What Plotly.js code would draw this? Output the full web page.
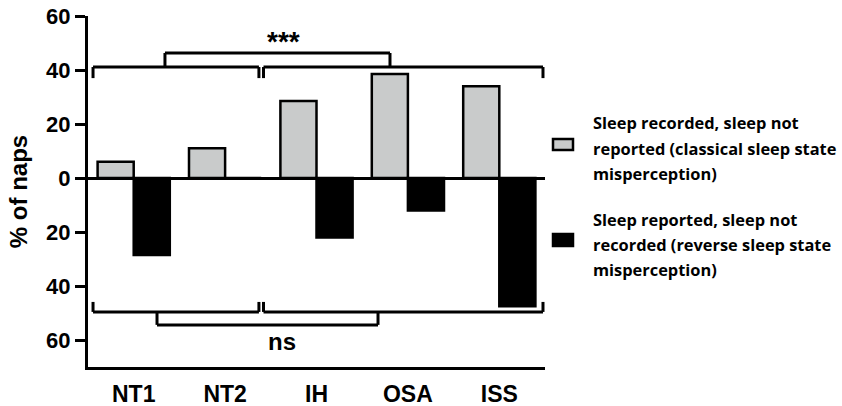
<!DOCTYPE html>
<html>
<head>
<meta charset="utf-8">
<script src="https://cdn.plot.ly/plotly-3.0.1.min.js"></script>
<style>html,body{margin:0;padding:0;background:#fff;}#chart{width:842px;height:406px;}</style>
</head>
<body>
<div id="chart"></div>
<script>
// ---- data ----
const categories = ["NT1", "NT2", "IH", "OSA", "ISS"];
const classicalValues = [6, 11, 28.5, 38.5, 34];      // sleep recorded, not reported (up)
const reverseValues = [-28.5, 0, -22, -12, -47.5];     // sleep reported, not recorded (down)
const yTickVals = [60, 40, 20, 0, -20, -40, -60];
const yTickText = ["60", "40", "20", "0", "20", "40", "60"];
const legendLines1 = ["Sleep recorded, sleep not", "reported (classical sleep state", "misperception)"];
const legendLines2 = ["Sleep reported, sleep not", "recorded (reverse sleep state", "misperception)"];
const sigTop = "***";
const sigBottom = "ns";

const legendFont = {family: "Open Sans, sans-serif", size: 16.4, color: "#000", weight: 700};

const traces = [
  {type: "bar", x: categories, y: classicalValues, name: "classical",
   marker: {color: "#c9cbcb", line: {color: "#000", width: 2.5}}, showlegend: false},
  {type: "bar", x: categories, y: reverseValues, name: "reverse",
   marker: {color: "#000", line: {color: "#000", width: 2.5}}, showlegend: false}
];

const lw = 3;
function seg(x0, y0, x1, y1) {
  return {type: "line", xref: "x", yref: "y", x0: x0, y0: y0, x1: x1, y1: y1,
          line: {color: "#000", width: lw}};
}
// bracket helper: horizontal at yh with end ticks toward yt
function bracket(xa, xb, yh, yt) {
  return [seg(xa, yt, xa, yh), seg(xa, yh, xb, yh), seg(xb, yh, xb, yt)];
}
const shapes = [].concat(
  bracket(-0.445, 1.37, 41.1, 37),
  bracket(1.42, 4.478, 41.1, 37),
  [seg(0.342, 41.1, 0.342, 46.3), seg(0.342, 46.3, 2.804, 46.3), seg(2.804, 46.3, 2.804, 41.1)],
  bracket(-0.445, 1.37, -49.6, -45.9),
  bracket(1.42, 4.478, -49.6, -45.9),
  [seg(0.255, -49.6, 0.255, -54.4), seg(0.255, -54.4, 2.673, -54.4), seg(2.673, -54.4, 2.673, -49.6)],
  // legend swatches (pixel coords via paper)
  [
    {type: "rect", xref: "paper", yref: "paper", x0: (553-88)/457, x1: (573-88)/457,
     y0: (367-150)/351, y1: (367-139)/351, fillcolor: "#c9cbcb", line: {color: "#000", width: 2.5}},
    {type: "rect", xref: "paper", yref: "paper", x0: (553-88)/457, x1: (573-88)/457,
     y0: (367-246)/351, y1: (367-234)/351, fillcolor: "#000", line: {color: "#000", width: 2.5}}
  ]
);

const annotations = [
  {x: 1.634, y: 50.6, xref: "x", yref: "y", text: sigTop, showarrow: false,
   font: {family: "Liberation Sans, Arial, sans-serif", size: 28, color: "#000", weight: 700}},
  {x: 1.62, y: -60.5, xref: "x", yref: "y", text: sigBottom, showarrow: false,
   font: {family: "Liberation Sans, Arial, sans-serif", size: 24, color: "#000", weight: 700}}
];
const legendY1 = [123, 148, 173];
const legendY2 = [219, 244, 269];
legendLines1.forEach((t, i) => annotations.push({
  xref: "paper", yref: "paper", x: (591-88)/457, y: (367-legendY1[i])/351,
  xanchor: "left", yanchor: "middle", text: t, showarrow: false, font: legendFont}));
legendLines2.forEach((t, i) => annotations.push({
  xref: "paper", yref: "paper", x: (591-88)/457, y: (367-legendY2[i])/351,
  xanchor: "left", yanchor: "middle", text: t, showarrow: false, font: legendFont}));

const layout = {
  width: 842, height: 406,
  margin: {l: 88, r: 297, t: 16, b: 39},
  paper_bgcolor: "#fff", plot_bgcolor: "#fff",
  barmode: "group", bargap: 0.21, bargroupgap: 0,
  showlegend: false,
  xaxis: {
    type: "category", range: [-0.5, 4.5], showline: true, linewidth: 3, linecolor: "#000",
    ticks: "outside", ticklen: 4, tickcolor: "rgba(0,0,0,0)", showgrid: false, zeroline: false,
    tickfont: {family: "Liberation Sans, Arial, sans-serif", size: 23, color: "#000", weight: 700},
    fixedrange: true
  },
  yaxis: {
    range: [-70, 60], showline: true, linewidth: 3, linecolor: "#000",
    ticks: "outside", ticklen: 10, tickwidth: 3, tickcolor: "#000",
    tickvals: yTickVals, ticktext: yTickText, showgrid: false,
    zeroline: true, zerolinewidth: 3, zerolinecolor: "#000",
    tickfont: {family: "Liberation Sans, Arial, sans-serif", size: 22, color: "#000", weight: 700},
    title: {text: "% of naps", standoff: 12,
            font: {family: "Liberation Sans, Arial, sans-serif", size: 24, color: "#000", weight: 700}},
    automargin: false, fixedrange: true
  },
  shapes: shapes,
  annotations: annotations
};

Plotly.newPlot("chart", traces, layout, {displayModeBar: false, staticPlot: true});
</script>
</body>
</html>
